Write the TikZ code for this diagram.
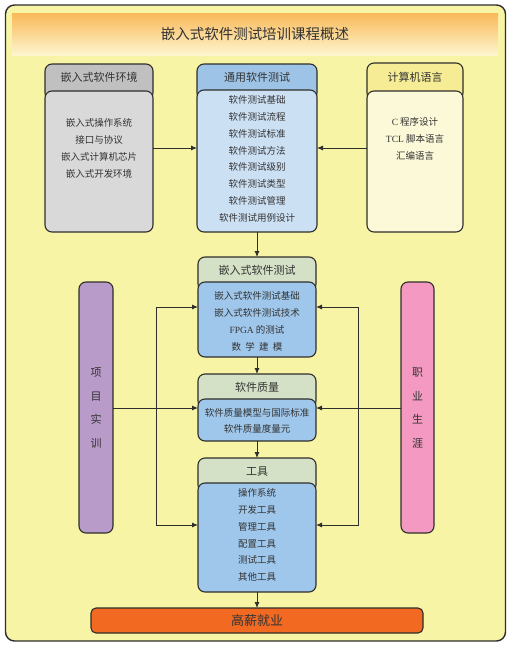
\documentclass[tikz,border=0pt]{standalone}
\usepackage{fontspec}
\setmainfont{Liberation Serif}
\newfontfamily\cjk{Noto Sans CJK SC}
\usetikzlibrary{arrows.meta,calc}
\newcommand\latn[1]{{\normalfont #1}}
\definecolor{bgc}{HTML}{F8F4A6}
\definecolor{linec}{HTML}{2E2E2A}
\definecolor{textc}{HTML}{333333}
\definecolor{titletop}{HTML}{F9B95A}
\definecolor{titlebot}{HTML}{FDF6CF}
\definecolor{grayh}{HTML}{C0C0C0}
\definecolor{grayb}{HTML}{D9D9D9}
\definecolor{blueh}{HTML}{9DC3E6}
\definecolor{blueb}{HTML}{CCE0F4}
\definecolor{yelh}{HTML}{F5EC95}
\definecolor{yelb}{HTML}{FCF9D8}
\definecolor{greenh}{HTML}{D4E1C6}
\definecolor{blueb2}{HTML}{9FC7EB}
\definecolor{purp}{HTML}{B89BC9}
\definecolor{pinkc}{HTML}{F399C2}
\definecolor{orng}{HTML}{F26A22}
\begin{document}
\begin{tikzpicture}[x=1pt,y=-1pt,
  shp/.style={draw=linec, line width=1.1pt, rounded corners=7pt, inner sep=0pt, outer sep=0pt, rectangle},
  htxt/.style={font={\cjk\fontsize{11}{13}\selectfont}, text=textc, inner sep=0pt},
  btxt/.style={font={\cjk\fontsize{9.5}{16.8}\selectfont}, text=textc, align=center, inner sep=0pt},
  vtxt/.style={font={\cjk\fontsize{11}{23.5}\selectfont}, text=textc, align=center, inner sep=0pt},
  arr/.style={draw=linec, line width=0.9pt, -{Latex[length=6pt,width=5pt]}},
  ln/.style={draw=linec, line width=0.9pt}
]
\useasboundingbox (0,0) rectangle (510,646);
% frame
\node[shp, fill=bgc, line width=1.4pt, rounded corners=9pt, minimum width=500pt, minimum height=636pt, anchor=north west] (frame) at (5.5,5) {};
\node[rectangle, draw=none, top color=titletop, bottom color=titlebot, minimum width=486pt, minimum height=42pt, anchor=north west, inner sep=0pt] (title) at (12,13) {};
\node[font={\cjk\fontsize{14.5}{16}\selectfont}, text=textc, inner sep=0pt] (titlet) at (255,34) {嵌入式软件测试培训课程概述};

% box 1
\node[shp, fill=grayh, minimum width=108pt, minimum height=36pt, anchor=north] (h1) at (99,64) {};
\node[shp, fill=grayb, minimum width=108pt, minimum height=141pt, anchor=north] (b1) at (99,91) {};
\node[htxt] (t1) at (99,77.5) {嵌入式软件环境};
\node[btxt] (c1) at (99,148.5) {嵌入式操作系统\\接口与协议\\嵌入式计算机芯片\\嵌入式开发环境};

% box 2
\node[shp, fill=blueh, minimum width=120pt, minimum height=36pt, anchor=north] (h2) at (257,64) {};
\node[shp, fill=blueb, minimum width=120pt, minimum height=142pt, anchor=north] (b2) at (257,90) {};
\node[htxt] (t2) at (257,77) {通用软件测试};
\node[btxt] (c2) at (257,159) {软件测试基础\\软件测试流程\\软件测试标准\\软件测试方法\\软件测试级别\\软件测试类型\\软件测试管理\\软件测试用例设计};

% box 3
\node[shp, fill=yelh, minimum width=96pt, minimum height=37pt, anchor=north] (h3) at (415,63) {};
\node[shp, fill=yelb, minimum width=96pt, minimum height=141pt, anchor=north] (b3) at (415,91) {};
\node[htxt] (t3) at (415,77) {计算机语言};
\node[btxt] (c3) at (415,139) {\latn{C} 程序设计\\\latn{TCL} 脚本语言\\汇编语言};

% box 4
\node[shp, fill=greenh, minimum width=118pt, minimum height=34pt, anchor=north] (h4) at (257,257) {};
\node[shp, fill=blueb2, minimum width=118pt, minimum height=75pt, anchor=north] (b4) at (257,282) {};
\node[htxt] (t4) at (257,270) {嵌入式软件测试};
\node[btxt] (c4) at (257,321.5) {嵌入式软件测试基础\\嵌入式软件测试技术\\\latn{FPGA} 的测试\\数\ \ 学\ \ 建\ \ 模};

% box 5
\node[shp, fill=greenh, minimum width=118pt, minimum height=34pt, anchor=north] (h5) at (257,374) {};
\node[shp, fill=blueb2, minimum width=118pt, minimum height=42pt, anchor=north] (b5) at (257,399) {};
\node[htxt] (t5) at (257,387.5) {软件质量};
\node[btxt, font={\cjk\fontsize{9.5}{16}\selectfont}] (c5) at (257,421) {软件质量模型与国际标准\\软件质量度量元};

% box 6
\node[shp, fill=greenh, minimum width=118pt, minimum height=34pt, anchor=north] (h6) at (257,458) {};
\node[shp, fill=blueb2, minimum width=118pt, minimum height=109pt, anchor=north] (b6) at (257,483) {};
\node[htxt] (t6) at (257,471.5) {工具};
\node[btxt] (c6) at (257,535) {操作系统\\开发工具\\管理工具\\配置工具\\测试工具\\其他工具};

% final
\node[shp, fill=orng, rounded corners=5pt, minimum width=332pt, minimum height=25pt] (fin) at (257,620.5) {};
\node[font={\cjk\fontsize{13}{15}\selectfont}, text=textc, inner sep=0pt] (fint) at (257,620.5) {高薪就业};

% side bars
\node[shp, fill=purp, minimum width=34pt, minimum height=251pt, anchor=north] (p1) at (96,282) {};
\node[vtxt] (pt) at (96,408) {项\\目\\实\\训};
\node[shp, fill=pinkc, minimum width=33pt, minimum height=251pt, anchor=north] (p2) at (417.5,282) {};
\node[vtxt] (qt) at (417.5,408) {职\\业\\生\\涯};

% coordinates
\coordinate (r148) at (0,148);
\coordinate (lj) at (156,408);
\coordinate (l1) at (156,307);
\coordinate (l2) at (156,525);
\coordinate (rj) at (358,408);
\coordinate (q1) at (358,307);
\coordinate (q2) at (358,525);

% connectors
\draw[arr] (b1.east |- r148) -- (b2.west |- r148);
\draw[arr] (b3.west |- r148) -- (b2.east |- r148);
\draw[arr] (b2.south) -- (h4.north);
\draw[arr] (b4.south) -- (h5.north);
\draw[arr] (b5.south) -- (h6.north);
\draw[arr] (b6.south) -- (fin.north);
\draw[arr] (p1.east |- lj) -- (b5.west |- lj);
\draw[arr] (lj) -- (l1) -- (b4.west |- l1);
\draw[arr] (lj) -- (l2) -- (b6.west |- l2);
\draw[arr] (p2.west |- rj) -- (b5.east |- rj);
\draw[arr] (rj) -- (q1) -- (b4.east |- q1);
\draw[arr] (rj) -- (q2) -- (b6.east |- q2);
\end{tikzpicture}
\end{document}
